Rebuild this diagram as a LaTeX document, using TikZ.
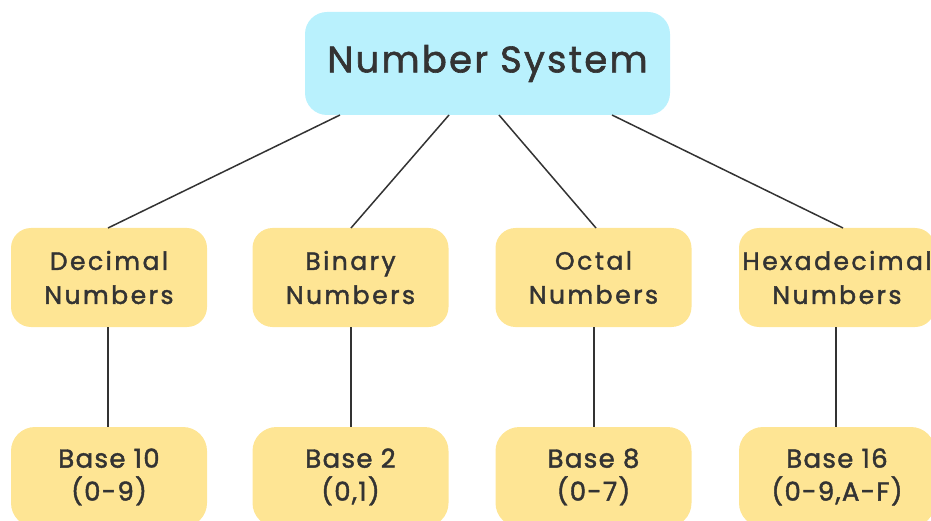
\documentclass[tikz,border=0pt]{standalone}
\usepackage{fontspec}
\newfontfamily\topfont{Poppins}[LetterSpace=6, FakeBold=1.6]
\newfontfamily\midfont{Poppins}[LetterSpace=10, FakeBold=1.6]
\newfontfamily\basefont{Poppins}[LetterSpace=5, FakeBold=1.6]
\usetikzlibrary{calc}
\definecolor{topfill}{HTML}{B9F1FD}
\definecolor{boxfill}{HTML}{FEE594}
\definecolor{ink}{HTML}{333333}
\tikzset{
  topbox/.style={fill=topfill, rounded corners=22pt, minimum width=365pt, minimum height=103pt,
    text=ink, font=\topfont\fontsize{37}{44}\selectfont, inner sep=0pt},
  midbox/.style={fill=boxfill, rounded corners=20pt, minimum width=196pt, minimum height=99pt,
    text=ink, align=center, font=\midfont\fontsize{25}{34}\selectfont, inner sep=0pt},
  basebox/.style={fill=boxfill, rounded corners=24pt, minimum width=196pt, minimum height=100pt,
    text=ink, align=center, font=\basefont\fontsize{26}{33}\selectfont, inner sep=0pt},
  link/.style={draw=ink, line width=1.5pt}
}
\begin{document}
\begin{tikzpicture}[x=1pt,y=-1pt]
\useasboundingbox (0,0) rectangle (931,521);
\clip (0,0) rectangle (931,521);
\node[topbox] (top) at (487.5,63.5) {Number System};
\node[midbox] (dec) at (109,277.5) {Decimal\\Numbers};
\node[midbox] (bin) at (350.5,277.5) {Binary\\Numbers};
\node[midbox] (oct) at (593.5,277.5) {Octal\\Numbers};
\node[midbox] (hex) at (837,277.5) {Hexadecimal\\Numbers};
\node[basebox] (b10) at (109,477) {Base 10\\(0-9)};
\node[basebox] (b2) at (350.5,477) {Base 2\\(0,1)};
\node[basebox] (b8) at (593.5,477) {Base 8\\(0-7)};
\node[basebox] (b16) at (837,477) {Base 16\\(0-9,A-F)};
\coordinate (t1) at (340,115);
\coordinate (t2) at (449,115);
\coordinate (t3) at (499,115);
\coordinate (t4) at (612,115);
\coordinate (h1) at (108,228);
\coordinate (h2) at (351,228);
\coordinate (h3) at (596,228);
\coordinate (h4) at (843,228);
\draw[link] (t1) -- (h1);
\draw[link] (t2) -- (h2);
\draw[link] (t3) -- (h3);
\draw[link] (t4) -- (h4);
\draw[link] (dec.south -| 108,0) -- (b10.north -| 108,0);
\draw[link] (bin.south -| 351,0) -- (b2.north -| 351,0);
\draw[link] (oct.south -| 594,0) -- (b8.north -| 594,0);
\draw[link] (hex.south -| 836,0) -- (b16.north -| 836,0);
\end{tikzpicture}
\end{document}
